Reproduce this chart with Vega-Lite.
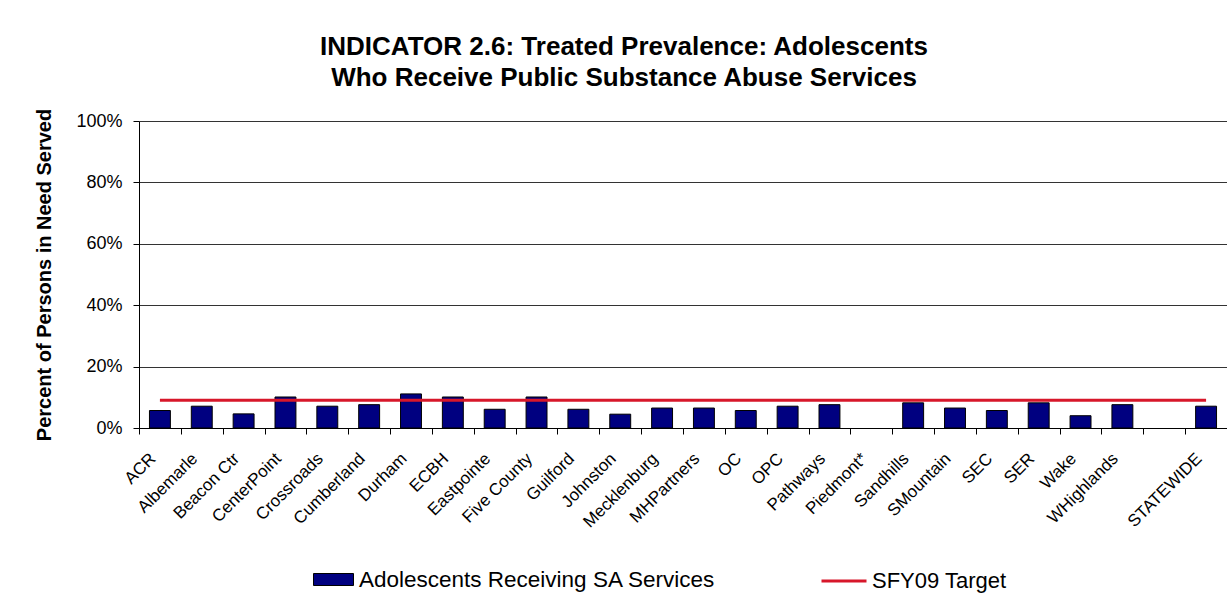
{
  "$schema": "https://vega.github.io/schema/vega-lite/v6.json",
  "width": 1088,
  "height": 307,
  "autosize": {"type": "none"},
  "padding": {"left": 139, "top": 121, "right": 0, "bottom": 171},
  "background": "white",
  "config": {"font": "Liberation Sans", "view": {"stroke": null}},
  "title": {
    "text": ["INDICATOR 2.6: Treated Prevalence: Adolescents", "Who Receive Public Substance Abuse Services"],
    "font": "Liberation Sans",
    "fontSize": 26,
    "fontWeight": "bold",
    "lineHeight": 31,
    "anchor": "middle",
    "baseline": "bottom",
    "dx": -59,
    "offset": -9,
    "color": "black"
  },
  "data": {
    "values": [
      {"region": "ACR", "served": 0.057, "target": 0.09},
      {"region": "Albemarle", "served": 0.071, "target": 0.09},
      {"region": "Beacon Ctr", "served": 0.046, "target": 0.09},
      {"region": "CenterPoint", "served": 0.101, "target": 0.09},
      {"region": "Crossroads", "served": 0.071, "target": 0.09},
      {"region": "Cumberland", "served": 0.076, "target": 0.09},
      {"region": "Durham", "served": 0.111, "target": 0.09},
      {"region": "ECBH", "served": 0.101, "target": 0.09},
      {"region": "Eastpointe", "served": 0.061, "target": 0.09},
      {"region": "Five County", "served": 0.101, "target": 0.09},
      {"region": "Guilford", "served": 0.061, "target": 0.09},
      {"region": "Johnston", "served": 0.045, "target": 0.09},
      {"region": "Mecklenburg", "served": 0.065, "target": 0.09},
      {"region": "MHPartners", "served": 0.065, "target": 0.09},
      {"region": "OC", "served": 0.057, "target": 0.09},
      {"region": "OPC", "served": 0.071, "target": 0.09},
      {"region": "Pathways", "served": 0.076, "target": 0.09},
      {"region": "Piedmont*", "served": null, "target": 0.09},
      {"region": "Sandhills", "served": 0.082, "target": 0.09},
      {"region": "SMountain", "served": 0.065, "target": 0.09},
      {"region": "SEC", "served": 0.057, "target": 0.09},
      {"region": "SER", "served": 0.082, "target": 0.09},
      {"region": "Wake", "served": 0.040, "target": 0.09},
      {"region": "WHighlands", "served": 0.076, "target": 0.09},
      {"region": " ", "served": null, "target": 0.09},
      {"region": "STATEWIDE", "served": 0.071, "target": 0.09}
    ]
  },
  "encoding": {
    "x": {
      "field": "region",
      "type": "nominal",
      "sort": null,
      "scale": {
        "domain": ["ACR", "Albemarle", "Beacon Ctr", "CenterPoint", "Crossroads", "Cumberland", "Durham", "ECBH", "Eastpointe", "Five County", "Guilford", "Johnston", "Mecklenburg", "MHPartners", "OC", "OPC", "Pathways", "Piedmont*", "Sandhills", "SMountain", "SEC", "SER", "Wake", "WHighlands", " ", "STATEWIDE"],
        "paddingInner": 0,
        "paddingOuter": 0
      },
      "axis": {
        "title": null,
        "labelAngle": -45,
        "labelFontSize": 17,
        "labelColor": "black",
        "labelPadding": 16,
        "labelOffset": -13,
        "tickBand": "extent",
        "tickSize": 6,
        "tickColor": "black",
        "domainColor": "black",
        "grid": false
      }
    }
  },
  "layer": [
    {
      "mark": {"type": "bar", "width": {"band": 0.5}, "stroke": "black", "strokeWidth": 1},
      "encoding": {
        "y": {
          "field": "served",
          "type": "quantitative",
          "scale": {"domain": [0, 1], "nice": false},
          "axis": {
            "title": "Percent of Persons in Need Served",
            "titleFontSize": 20,
            "titleFontWeight": "bold",
            "titleColor": "black",
            "titlePadding": 21,
            "format": ".0%",
            "values": [0, 0.2, 0.4, 0.6, 0.8, 1],
            "labelFontSize": 18,
            "labelColor": "black",
            "labelPadding": 11,
            "tickSize": 6,
            "tickColor": "black",
            "domainColor": "black",
            "grid": true,
            "gridColor": "#333333",
            "gridWidth": 1
          }
        },
        "color": {
          "datum": "Adolescents Receiving SA Services",
          "scale": {"range": ["#000080"]},
          "legend": {
            "orient": "none",
            "legendX": 174,
            "legendY": 438,
            "title": null,
            "padding": 0,
            "symbolType": "M-1,-0.3H1V0.3H-1Z",
            "symbolSize": 1600,
            "symbolStrokeColor": "black",
            "symbolStrokeWidth": 1,
            "symbolOpacity": 1,
            "labelFontSize": 22.5,
            "labelLimit": 600,
            "labelColor": "black",
            "labelOffset": 5
          }
        }
      }
    },
    {
      "mark": {"type": "line", "strokeWidth": 3},
      "encoding": {
        "y": {"field": "target", "type": "quantitative"},
        "stroke": {
          "datum": "SFY09 Target",
          "scale": {"range": ["#d7172a"]},
          "legend": {
            "orient": "none",
            "legendX": 681,
            "legendY": 436,
            "title": null,
            "padding": 0,
            "symbolType": "stroke",
            "symbolSize": 2025,
            "symbolStrokeWidth": 3,
            "labelFontSize": 22,
            "labelLimit": 600,
            "labelColor": "black",
            "labelOffset": 4
          }
        }
      }
    }
  ]
}
